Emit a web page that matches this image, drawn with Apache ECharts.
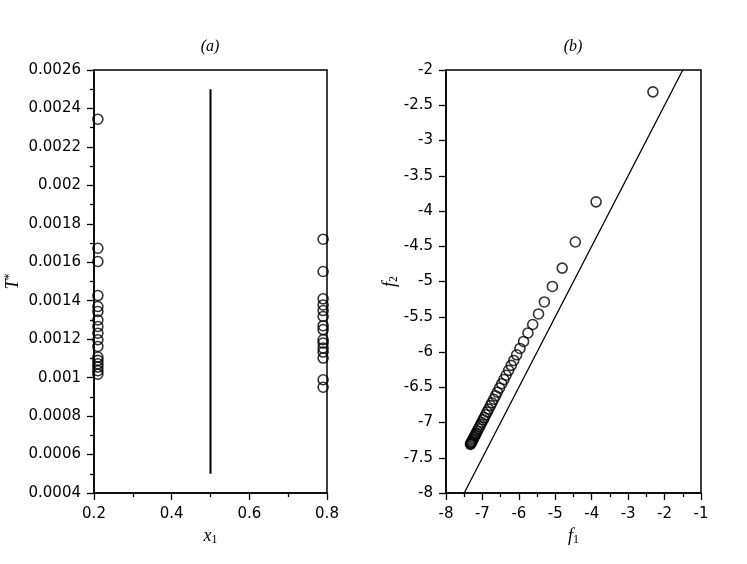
<!DOCTYPE html>
<html>
<head>
<meta charset="utf-8">
<script src="https://cdn.jsdelivr.net/npm/echarts@6/dist/echarts.min.js"></script>
<style>
  html, body { margin: 0; padding: 0; background: #fff; }
  #chart { width: 747px; height: 564px; }
</style>
</head>
<body>
<div id="chart"></div>
<script>
// (a) design points at x1 = 0.21 and x1 = 0.79
const leftX = 0.21;
const leftT = [0.002344, 0.001673, 0.001604, 0.001427, 0.00137, 0.001344, 0.0013, 0.001266,
  0.001231, 0.001197, 0.001162, 0.001107, 0.00109, 0.001072, 0.001055, 0.001036, 0.001018];
const rightX = 0.79;
const rightT = [0.00172, 0.001552, 0.00141, 0.001378, 0.001349, 0.001318, 0.00127, 0.00125,
  0.001197, 0.00118, 0.001154, 0.001133, 0.001102, 0.000989, 0.00095];
// vertical reference line
const lineA = [[0.5, 0.0005], [0.5, 0.0025]];

// (b) Pareto points (f1, f2)
const f1 = [-2.32, -3.88, -4.45, -4.81, -5.08, -5.30, -5.46, -5.62, -5.75, -5.87, -5.97, -6.06,
  -6.14, -6.21, -6.28, -6.35, -6.41, -6.47, -6.53, -6.59, -6.64, -6.69, -6.74, -6.78, -6.83,
  -6.87, -6.91, -6.95, -6.98, -7.02, -7.05, -7.08, -7.11, -7.14, -7.17, -7.19, -7.21, -7.23,
  -7.25, -7.27, -7.29, -7.30, -7.31, -7.32, -7.33];
const f2 = [-2.31, -3.87, -4.44, -4.81, -5.07, -5.29, -5.46, -5.61, -5.73, -5.85, -5.95, -6.04,
  -6.12, -6.19, -6.26, -6.33, -6.39, -6.45, -6.51, -6.57, -6.62, -6.67, -6.72, -6.76, -6.81,
  -6.85, -6.89, -6.93, -6.96, -7.00, -7.03, -7.06, -7.09, -7.12, -7.15, -7.17, -7.19, -7.21,
  -7.23, -7.25, -7.27, -7.28, -7.29, -7.30, -7.31];
const lineB = [[-7.5, -8], [-1.5, -2]];

const xTicksA = [0.2, 0.4, 0.6, 0.8];

const chart = echarts.init(document.getElementById('chart'));

const tickFont = { fontFamily: 'DejaVu Sans', fontSize: 15, color: '#000' };
const mathRich = {
  i: { fontFamily: 'Liberation Serif', fontStyle: 'italic', fontSize: 18, color: '#000' },
  sub: { fontFamily: 'Liberation Serif', fontSize: 12, color: '#000', verticalAlign: 'bottom', padding: [8, 0, 0, 0] },
  sup: { fontFamily: 'DejaVu Sans', fontSize: 12, color: '#000', verticalAlign: 'top', padding: [0, 0, 6, 0] }
};

function axisBase(extra) {
  return Object.assign({
    type: 'value',
    axisLine: { show: true, onZero: false, lineStyle: { color: '#000', width: 1.5 } },
    axisTick: { show: true, inside: false, length: 7, lineStyle: { color: '#000', width: 1.3 } },
    minorTick: { show: true, splitNumber: 2, length: 4, lineStyle: { color: '#000', width: 1.3 } },
    splitLine: { show: false },
    axisLabel: Object.assign({ margin: 13 }, tickFont),
    nameLocation: 'middle',
    nameTextStyle: { rich: mathRich }
  }, extra);
}

const circle = {
  symbol: 'circle',
  symbolSize: 10,
  itemStyle: { color: 'rgba(0,0,0,0)', borderColor: '#000', borderWidth: 1.6 }
};

const option = {
  animation: false,
  backgroundColor: '#fff',
  grid: [
    { left: 94, top: 70, width: 233, height: 423, show: true, borderColor: '#000', borderWidth: 1.5, backgroundColor: 'transparent' },
    { left: 446, top: 70, width: 255, height: 423, show: true, borderColor: '#000', borderWidth: 1.5, backgroundColor: 'transparent' }
  ],
  graphic: [
    { type: 'text', x: 210, y: 47, style: { text: '(a)', font: 'italic 16px "Liberation Serif"', fill: '#000', align: 'center', verticalAlign: 'middle' } },
    { type: 'text', x: 573, y: 47, style: { text: '(b)', font: 'italic 16px "Liberation Serif"', fill: '#000', align: 'center', verticalAlign: 'middle' } }
  ],
  xAxis: [
    axisBase({
      gridIndex: 0, min: 0.2, max: 0.8, interval: 0.2,
      axisLabel: Object.assign({ margin: 14, customValues: xTicksA }, tickFont),
      name: '{i|x}{sub|1}', nameGap: 32
    }),
    axisBase({
      gridIndex: 1, min: -8, max: -1, interval: 1,
      axisLabel: Object.assign({ margin: 14 }, tickFont),
      name: '{i|f}{sub|1}', nameGap: 32
    })
  ],
  yAxis: [
    axisBase({
      gridIndex: 0, min: 0.0004, max: 0.0026, interval: 0.0002,
      name: '{i|T}{sup|*}', nameGap: 72, nameRotate: 90
    }),
    axisBase({
      gridIndex: 1, min: -8, max: -2, interval: 0.5,
      minorTick: { show: false },
      name: '{i|f}{sub|2}', nameGap: 44, nameRotate: 90
    })
  ],
  series: [
    Object.assign({ type: 'scatter', xAxisIndex: 0, yAxisIndex: 0, data: leftT.map(v => [leftX, v]) }, circle),
    Object.assign({ type: 'scatter', xAxisIndex: 0, yAxisIndex: 0, data: rightT.map(v => [rightX, v]) }, circle),
    { type: 'line', xAxisIndex: 0, yAxisIndex: 0, data: lineA, symbol: 'none', lineStyle: { color: '#000', width: 2 } },
    Object.assign({ type: 'scatter', xAxisIndex: 1, yAxisIndex: 1, data: f1.map((v, i) => [v, f2[i]]) }, circle),
    { type: 'line', xAxisIndex: 1, yAxisIndex: 1, data: lineB, symbol: 'none', lineStyle: { color: '#000', width: 1.3 } }
  ]
};

chart.setOption(option);
</script>
</body>
</html>
